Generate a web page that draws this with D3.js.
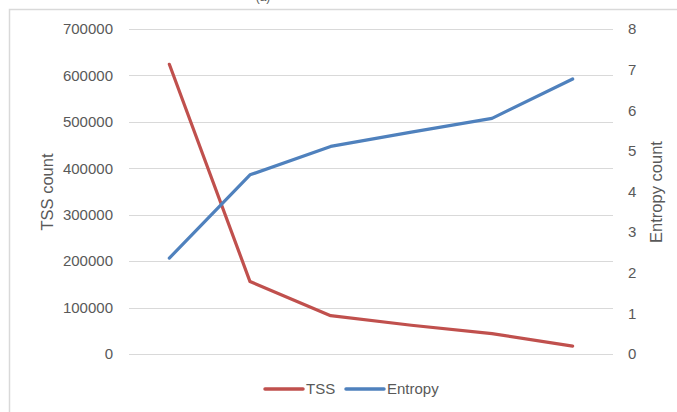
<!DOCTYPE html>
<html>
<head>
<meta charset="utf-8">
<script src="https://cdn.jsdelivr.net/npm/d3@7"></script>
<style>
  body { margin: 0; background: #fff; }
  svg text { font-family: "Liberation Sans", Arial, sans-serif; fill: #595959; }
</style>
</head>
<body>
<svg id="chart" width="677" height="412"></svg>
<script>
  // Chart data
  var categories = ["1", "2", "3", "4", "5", "6"];
  var tssValues = [624000, 156000, 82500, 62000, 44000, 17000];
  var entropyValues = [2.36, 4.41, 5.11, 5.46, 5.80, 6.77];
  var leftTicks = [0, 100000, 200000, 300000, 400000, 500000, 600000, 700000];
  var rightTicks = [0, 1, 2, 3, 4, 5, 6, 7, 8];

  var w = 677, h = 412;
  var plot = { left: 129, right: 613, top: 29, bottom: 354 };

  var svg = d3.select("#chart");

  // chart frame
  svg.append("rect")
    .attr("x", 9.5).attr("y", 9.5)
    .attr("width", w + 10).attr("height", h + 10)
    .attr("fill", "none")
    .attr("stroke", "#d9d9d9")
    .attr("stroke-width", 1.5);

  // title, cut off at the top edge as in the picture
  svg.append("text")
    .attr("x", 263).attr("y", 1)
    .attr("text-anchor", "middle")
    .style("font-size", "12px")
    .text("(a)");

  var x = d3.scaleBand()
    .domain(categories)
    .range([plot.left, plot.right]);

  var yLeft = d3.scaleLinear()
    .domain([0, 700000])
    .range([plot.bottom, plot.top]);

  var yRight = d3.scaleLinear()
    .domain([0, 8])
    .range([plot.bottom, plot.top]);

  // gridlines
  svg.append("g")
    .selectAll("line")
    .data(leftTicks)
    .enter()
    .append("line")
    .attr("x1", plot.left).attr("x2", plot.right)
    .attr("y1", function(d) { return Math.round(yLeft(d)) + 0.5; })
    .attr("y2", function(d) { return Math.round(yLeft(d)) + 0.5; })
    .attr("stroke", "#d9d9d9")
    .attr("stroke-width", 1);

  // left axis labels
  var leftAxis = d3.axisLeft(yLeft)
    .tickValues(leftTicks)
    .tickFormat(d3.format("d"))
    .tickSize(0)
    .tickPadding(16);
  var gl = svg.append("g")
    .attr("transform", "translate(" + plot.left + ",0)")
    .call(leftAxis);
  gl.select(".domain").remove();
  gl.selectAll("text")
    .style("font-size", "15px")
    .style("font-family", "'Liberation Sans', Arial, sans-serif")
    .attr("fill", "#595959");

  // right axis labels
  var rightAxis = d3.axisRight(yRight)
    .tickValues(rightTicks)
    .tickFormat(d3.format("d"))
    .tickSize(0)
    .tickPadding(15);
  var gr = svg.append("g")
    .attr("transform", "translate(" + plot.right + ",0)")
    .call(rightAxis);
  gr.select(".domain").remove();
  gr.selectAll("text")
    .style("font-size", "15px")
    .style("font-family", "'Liberation Sans', Arial, sans-serif")
    .attr("fill", "#595959");

  // axis titles
  svg.append("text")
    .attr("transform", "translate(53,192) rotate(-90)")
    .attr("text-anchor", "middle")
    .style("font-size", "16.5px")
    .text("TSS count");

  svg.append("text")
    .attr("transform", "translate(662,192) rotate(-90)")
    .attr("text-anchor", "middle")
    .style("font-size", "16.5px")
    .text("Entropy count");

  function cx(d, i) { return x(categories[i]) + x.bandwidth() / 2; }

  var tssLine = d3.line()
    .x(cx)
    .y(function(d) { return yLeft(d); });

  var entropyLine = d3.line()
    .x(cx)
    .y(function(d) { return yRight(d); });

  svg.append("path")
    .datum(tssValues)
    .attr("d", tssLine)
    .attr("fill", "none")
    .attr("stroke", "#c0504d")
    .attr("stroke-width", 3.2)
    .attr("stroke-linecap", "round")
    .attr("stroke-linejoin", "round");

  svg.append("path")
    .datum(entropyValues)
    .attr("d", entropyLine)
    .attr("fill", "none")
    .attr("stroke", "#4f81bd")
    .attr("stroke-width", 3.2)
    .attr("stroke-linecap", "round")
    .attr("stroke-linejoin", "round");

  // legend
  var legendItems = [
    { name: "TSS", color: "#c0504d", x: 265 },
    { name: "Entropy", color: "#4f81bd", x: 346 }
  ];
  var legend = svg.append("g")
    .selectAll("g")
    .data(legendItems)
    .enter()
    .append("g")
    .attr("transform", function(d) { return "translate(" + d.x + ",389)"; });

  legend.append("line")
    .attr("x1", 0).attr("x2", 38)
    .attr("y1", 0).attr("y2", 0)
    .attr("stroke", function(d) { return d.color; })
    .attr("stroke-width", 3.5)
    .attr("stroke-linecap", "round");

  legend.append("text")
    .attr("x", 41)
    .attr("y", 5)
    .style("font-size", "15px")
    .text(function(d) { return d.name; });
</script>
</body>
</html>
